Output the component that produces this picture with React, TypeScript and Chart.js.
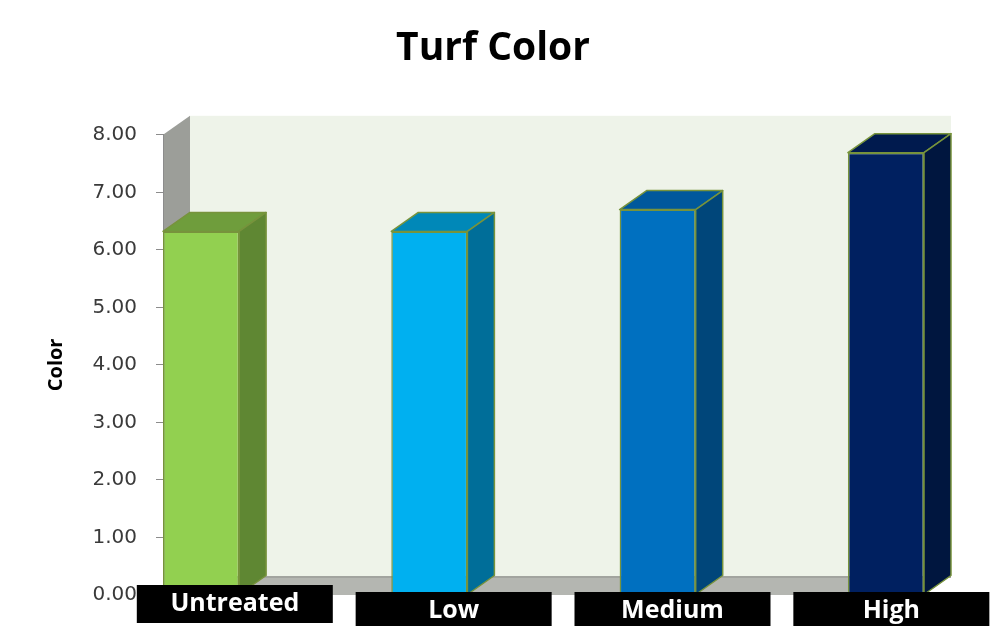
import { useEffect, useRef } from 'react';
import { Chart, registerables } from 'chart.js';

Chart.register(...registerables);

// Turf colour rating per treatment level
const categories = ['Untreated', 'Low', 'Medium', 'High'];
const colorScores = [6.32, 6.32, 6.7, 7.69];

// Y axis range and step
const yMin = 0;
const yMax = 8;
const yStep = 1;

// Face colours of each column: front, top, side
const frontColors = ['#92D050', '#00B0F0', '#0070C0', '#002060'];
const topColors = ['#6F9D3C', '#0088B8', '#00589C', '#001A4E'];
const sideColors = ['#5F8733', '#006E99', '#00467A', '#00163F'];
const edgeColor = '#77933C';

// Oblique depth of the pseudo‑3D box
const DEPTH_X = 27;
const DEPTH_Y = -19;

type Pt = [number, number];

function fillPoly(ctx: CanvasRenderingContext2D, pts: Pt[], fill: string, stroke?: string, lw = 1) {
  ctx.beginPath();
  ctx.moveTo(pts[0][0], pts[0][1]);
  for (let i = 1; i < pts.length; i++) ctx.lineTo(pts[i][0], pts[i][1]);
  ctx.closePath();
  ctx.fillStyle = fill;
  ctx.fill();
  if (stroke) {
    ctx.strokeStyle = stroke;
    ctx.lineWidth = lw;
    ctx.lineJoin = 'round';
    ctx.stroke();
  }
}

// Back wall, side wall and floor behind the columns
const wallsPlugin = {
  id: 'walls',
  beforeDraw(chart: any) {
    const { ctx, chartArea: a } = chart;
    ctx.save();
    ctx.fillStyle = '#EEF3E9';
    ctx.fillRect(a.left + DEPTH_X, a.top + DEPTH_Y, a.right - a.left, a.bottom - a.top);
    fillPoly(ctx, [
      [a.left, a.top],
      [a.left + DEPTH_X, a.top + DEPTH_Y],
      [a.left + DEPTH_X, a.bottom + DEPTH_Y],
      [a.left, a.bottom],
    ], '#9C9E99');
    fillPoly(ctx, [
      [a.left, a.bottom],
      [a.right, a.bottom],
      [a.right + DEPTH_X, a.bottom + DEPTH_Y],
      [a.left + DEPTH_X, a.bottom + DEPTH_Y],
    ], '#B4B6B1');
    ctx.strokeStyle = '#A2A49F';
    ctx.lineWidth = 2;
    ctx.beginPath();
    ctx.moveTo(a.left + DEPTH_X, a.bottom + DEPTH_Y + 1);
    ctx.lineTo(a.right + DEPTH_X, a.bottom + DEPTH_Y + 1);
    ctx.stroke();
    ctx.restore();
  },
};

// Top and side faces of each column, then the boxed category labels
const columnsPlugin = {
  id: 'columns3d',
  afterDatasetsDraw(chart: any) {
    const { ctx } = chart;
    const meta = chart.getDatasetMeta(0);
    const yZero = chart.scales.y.getPixelForValue(0);
    ctx.save();
    meta.data.forEach((bar: any, i: number) => {
      const { x, y, base, width } = bar.getProps(['x', 'y', 'base', 'width'], true);
      const l = x - width / 2;
      const r = x + width / 2;
      fillPoly(ctx, [
        [l, y],
        [r, y],
        [r + DEPTH_X, y + DEPTH_Y],
        [l + DEPTH_X, y + DEPTH_Y],
      ], topColors[i], edgeColor, 1.5);
      fillPoly(ctx, [
        [r, y],
        [r + DEPTH_X, y + DEPTH_Y],
        [r + DEPTH_X, base + DEPTH_Y],
        [r, base],
      ], sideColors[i], edgeColor, 1.5);
    });

    // Category labels on black plates, leaning slightly with the perspective
    const xs = chart.scales.x;
    const plateW = 196;
    const plateH = 38;
    categories.forEach((name, i) => {
      const cx = xs.getPixelForValue(i) + DEPTH_X * (1.25 - 0.35 * i);
      const top = yZero - (i === 0 ? 10 : 3);
      ctx.fillStyle = '#000000';
      ctx.fillRect(cx - plateW / 2, top, plateW, plateH);
      ctx.fillStyle = '#FFFFFF';
      ctx.font = 'bold 25px "Open Sans"';
      ctx.textAlign = 'center';
      ctx.textBaseline = 'middle';
      ctx.fillText(name, cx, top + 19);
    });
    ctx.restore();
  },
};

export default function App() {
  const canvasRef = useRef<HTMLCanvasElement | null>(null);

  useEffect(() => {
    const canvas = canvasRef.current;
    if (!canvas) return;
    const chart = new Chart(canvas, {
      type: 'bar',
      data: {
        datasets: [
          {
            label: 'Color',
            data: colorScores.map((v, i) => ({ x: i, y: v })),
            backgroundColor: frontColors,
            borderColor: edgeColor,
            borderWidth: 1.5,
            borderSkipped: false,
            barPercentage: 1 / 3,
            categoryPercentage: 1,
          },
        ],
      },
      options: {
        responsive: false,
        animation: false,
        devicePixelRatio: 1,
        layout: { padding: { top: 0, left: 0, right: 8, bottom: 31 } },
        plugins: {
          legend: { display: false },
          tooltip: { enabled: false },
          title: {
            display: true,
            text: 'Turf Color',
            color: '#000000',
            font: { family: '"Open Sans"', size: 39, weight: 'bold' },
            padding: { top: 25, bottom: 63 },
          },
        },
        scales: {
          x: {
            type: 'linear',
            display: false,
            offset: false,
            min: -1 / 6,
            max: categories.length - 1 + 1 / 6,
            ticks: { stepSize: 1, includeBounds: false },
          },
          y: {
            min: yMin,
            max: yMax,
            afterFit(scale: any) {
              scale.width = 163;
            },
            ticks: {
              stepSize: yStep,
              padding: 19,
              color: '#3A3A3A',
              font: { family: '"DejaVu Sans"', size: 20 },
              callback: (v: any) => Number(v).toFixed(2),
            },
            grid: {
              drawOnChartArea: false,
              drawTicks: true,
              tickLength: 7,
              color: '#8C8C8C',
            },
            border: { display: true, color: '#8C8C8C', width: 1 },
            title: {
              display: true,
              text: 'Color',
              color: '#000000',
              font: { family: '"Open Sans"', size: 20, weight: 'bold' },
              padding: { top: 44, bottom: 0 },
            },
          },
          // Empty strip on the right that leaves room for the box depth
          depthGutter: {
            type: 'linear',
            position: 'right',
            display: true,
            afterFit(scale: any) {
              scale.width = 62;
            },
            ticks: { display: false },
            grid: { display: false, drawTicks: false },
            border: { display: false },
          },
        },
      },
      plugins: [wallsPlugin, columnsPlugin],
    } as any);
    return () => chart.destroy();
  }, []);

  return (
    <div style={{ position: 'absolute', left: 0, top: 0, width: 994, height: 626, background: '#FFFFFF' }}>
      <canvas ref={canvasRef} width={994} height={626} style={{ display: 'block' }} />
    </div>
  );
}
